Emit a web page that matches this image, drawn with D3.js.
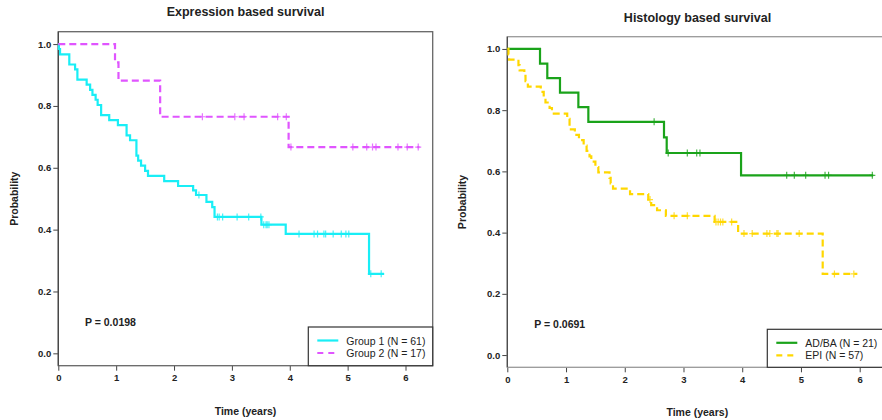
<!DOCTYPE html>
<html>
<head>
<meta charset="utf-8">
<script src="https://cdn.jsdelivr.net/npm/d3@7"></script>
<style>
  body { margin: 0; background: #fff; }
  svg { display: block; font-family: "Liberation Sans", Arial, sans-serif; }
  .tick text { font-weight: bold; font-size: 9.5px; fill: #222; }
  .tick line { stroke: #444; }
</style>
</head>
<body>
<svg id="chart" width="882" height="420"></svg>
<script>
// tick values shared by both panels
const xTicks = [0, 1, 2, 3, 4, 5, 6];
const yTicks = [0, 0.2, 0.4, 0.6, 0.8, 1.0];

// expression groups: step times, survival after each step, censor times, last follow-up
const g1Time = [0, 0.01, 0.03, 0.19, 0.29, 0.33, 0.49, 0.55, 0.59, 0.645, 0.68, 0.74, 0.88, 1.03, 1.18, 1.24, 1.35, 1.38, 1.43, 1.50, 1.55, 1.83, 2.07, 2.33, 2.38, 2.56, 2.66, 2.70, 3.51, 3.93, 5.37];
const g1Surv = [1, 0.984, 0.967, 0.934, 0.918, 0.885, 0.869, 0.852, 0.836, 0.820, 0.803, 0.770, 0.754, 0.738, 0.705, 0.689, 0.639, 0.623, 0.607, 0.590, 0.574, 0.557, 0.541, 0.527, 0.512, 0.490, 0.473, 0.441, 0.416, 0.386, 0.257];
const g1Cens = [2.43, 2.75, 2.78, 2.84, 3.09, 3.29, 3.50, 3.55, 3.59, 3.61, 3.64, 4.16, 4.42, 4.48, 4.59, 4.62, 4.75, 4.89, 4.97, 5.02, 5.40, 5.58];
const g1End = 5.63;

const g2Time = [0, 0.98, 1.04, 1.76, 3.98];
const g2Surv = [1, 0.941, 0.882, 0.765, 0.667];
const g2Cens = [2.49, 3.05, 3.21, 3.79, 3.94, 4.02, 5.09, 5.33, 5.43, 5.49, 5.87, 6.03, 6.22];
const g2End = 6.24;

// histology groups
const adTime = [0, 0.557, 0.681, 0.897, 1.21, 1.38, 2.668, 2.714, 3.98];
const adSurv = [1, 0.952, 0.905, 0.857, 0.810, 0.762, 0.711, 0.660, 0.587];
const adCens = [2.50, 2.74, 3.065, 3.225, 3.28, 4.757, 4.887, 5.08, 5.41, 5.47, 6.215];
const adEnd = 6.23;

const epiTime = [0, 0.02, 0.03, 0.19, 0.21, 0.29, 0.31, 0.35, 0.57, 0.62, 0.65, 0.72, 0.76, 1.02, 1.06, 1.15, 1.22, 1.30, 1.35, 1.40, 1.43, 1.50, 1.55, 1.74, 1.76, 1.80, 2.09, 2.40, 2.45, 2.55, 2.70, 3.53, 3.93, 5.37];
const epiSurv = [1, 0.982, 0.965, 0.947, 0.930, 0.912, 0.895, 0.877, 0.860, 0.842, 0.825, 0.807, 0.789, 0.772, 0.737, 0.719, 0.702, 0.684, 0.667, 0.649, 0.632, 0.614, 0.597, 0.579, 0.561, 0.544, 0.526, 0.508, 0.490, 0.473, 0.455, 0.435, 0.397, 0.265];
const epiCens = [2.43, 2.84, 3.065, 3.553, 3.59, 3.63, 3.67, 3.82, 4.03, 4.17, 4.42, 4.47, 4.59, 4.61, 4.97, 5.57, 5.90];
const epiEnd = 5.96;

const svg = d3.select('#chart');

function drawPanel(p) {
  const x = d3.scaleLinear().domain([0, 6.47]).range([p.left, p.right]);
  const y = d3.scaleLinear().domain([-0.04, 1.04]).range([p.bottom, p.top]);
  const g = svg.append('g');

  g.append('text')
    .attr('x', p.titleX).attr('y', p.titleY)
    .attr('text-anchor', 'middle')
    .style('font-weight', 'bold').style('font-size', '12.5px').style('fill', '#222')
    .text(p.title);

  g.append('g')
    .attr('transform', `translate(${p.left},0)`)
    .call(d3.axisLeft(y).tickValues(yTicks).tickSize(5).tickPadding(2).tickFormat(d3.format('.1f')))
    .call(a => a.select('.domain').remove());

  g.append('g')
    .attr('transform', `translate(0,${p.bottom})`)
    .call(d3.axisBottom(x).tickValues(xTicks).tickSize(5).tickPadding(4).tickFormat(d3.format('d')))
    .call(a => a.select('.domain').remove());

  g.append('rect')
    .attr('x', p.left).attr('y', p.top)
    .attr('width', p.right - p.left).attr('height', p.bottom - p.top)
    .attr('fill', 'none').attr('stroke', p.boxColor).attr('stroke-width', 1.3);
  g.append('line')
    .attr('x1', p.left).attr('x2', p.left).attr('y1', p.top).attr('y2', p.bottom)
    .attr('stroke', '#444').attr('stroke-width', 1.2);

  g.append('text')
    .attr('transform', `translate(${p.ylabX},${(p.top + p.bottom) / 2}) rotate(-90)`)
    .attr('text-anchor', 'middle')
    .style('font-weight', 'bold').style('font-size', '10.5px').style('fill', '#222')
    .text('Probability');

  g.append('text')
    .attr('x', (p.left + p.xlabRef) / 2).attr('y', p.xlabY)
    .attr('text-anchor', 'middle')
    .style('font-weight', 'bold').style('font-size', '10.5px').style('fill', '#222')
    .text('Time (years)');

  g.append('text')
    .attr('x', p.pX).attr('y', p.pY)
    .style('font-weight', 'bold').style('font-size', '10.5px').style('fill', '#222')
    .text(p.pText);

  const line = d3.line().x(d => x(d[0])).y(d => y(d[1])).curve(d3.curveStepAfter);

  p.series.forEach(s => {
    const pts = s.time.map((t, i) => [t, s.surv[i]]);
    pts.push([s.end, s.surv[s.surv.length - 1]]);
    g.append('path')
      .attr('d', line(pts))
      .attr('fill', 'none').attr('stroke', s.color).attr('stroke-width', 2.2)
      .attr('stroke-dasharray', s.dash);

    const marks = s.cens.map(t => [t, s.surv[d3.bisectRight(s.time, t) - 1]]);
    g.selectAll(null).data(marks).enter().append('path')
      .attr('d', d => `M${x(d[0]) - 3},${y(d[1])}h6M${x(d[0])},${y(d[1]) - 3.5}v7`)
      .attr('stroke', s.color).attr('stroke-width', 1.2).attr('opacity', 0.8);
  });

  // legend box
  const lg = g.append('g');
  lg.append('rect')
    .attr('x', p.legX).attr('y', p.legY)
    .attr('width', p.right - p.legX).attr('height', p.bottom - p.legY)
    .attr('fill', '#fff').attr('stroke', '#333').attr('stroke-width', 1.2);
  p.series.forEach((s, i) => {
    const yy = p.legY + 13.5 + i * 12.5;
    lg.append('line')
      .attr('x1', p.legX + 9).attr('x2', p.legX + 30).attr('y1', yy).attr('y2', yy)
      .attr('stroke', s.color).attr('stroke-width', 2.2).attr('stroke-dasharray', s.dash ? '6,5' : null);
    lg.append('text')
      .attr('x', p.legX + 38).attr('y', yy + 4)
      .style('font-size', '10.5px').style('fill', '#222')
      .text(s.label);
  });
}

drawPanel({
  left: 58.3, right: 432.7, top: 31.7, bottom: 365.7, boxColor: '#666',
  title: 'Expression based survival', titleX: 245.5, titleY: 16,
  ylabX: 18, xlabRef: 432.7, xlabY: 414.5,
  pText: 'P = 0.0198', pX: 85, pY: 326,
  legX: 308.3, legY: 327,
  series: [
    { time: g1Time, surv: g1Surv, cens: g1Cens, end: g1End, color: '#19EEF6', dash: null, label: 'Group 1 (N = 61)' },
    { time: g2Time, surv: g2Surv, cens: g2Cens, end: g2End, color: '#E055FF', dash: '7,4', label: 'Group 2 (N = 17)' }
  ]
});

drawPanel({
  left: 507.3, right: 887.3, top: 36.7, bottom: 367.3, boxColor: '#999',
  title: 'Histology based survival', titleX: 697.5, titleY: 22,
  ylabX: 465.5, xlabRef: 887.3, xlabY: 415.5,
  pText: 'P = 0.0691', pX: 534.3, pY: 328,
  legX: 767.3, legY: 329.3,
  series: [
    { time: adTime, surv: adSurv, cens: adCens, end: adEnd, color: '#1AA31A', dash: null, label: 'AD/BA (N = 21)' },
    { time: epiTime, surv: epiSurv, cens: epiCens, end: epiEnd, color: '#FFD700', dash: '7,4', label: 'EPI (N = 57)' }
  ]
});
</script>
</body>
</html>
